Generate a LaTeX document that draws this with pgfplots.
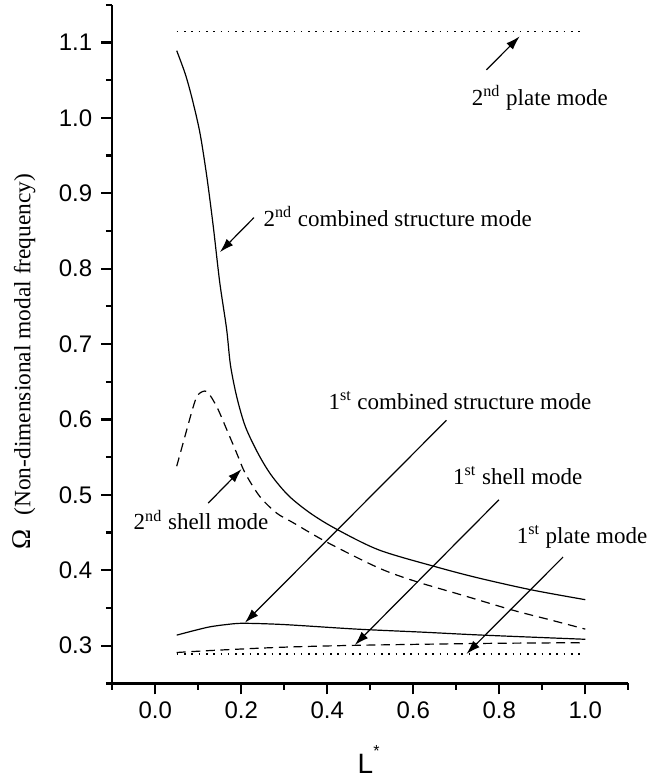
\documentclass[border=0pt]{standalone}
\usepackage{pgfplots}
\pgfplotsset{compat=1.18}
\usetikzlibrary{arrows.meta}
\usepackage{fontspec}
\setmainfont{Liberation Serif}
\setsansfont{Liberation Sans}
\begin{document}
\begin{tikzpicture}
\useasboundingbox (-56.1pt,-48.3pt) rectangle (267.9pt,341.7pt);
\begin{axis}[
  at={(0,0)}, anchor=south west,
  scale only axis, width=258.05pt, height=339.35pt,
  xmin=-0.1, xmax=1.1, ymin=0.25, ymax=1.15,
  axis lines*=left,
  axis line style={line width=1.1pt},
  tick align=outside,
  xtick={0,0.2,0.4,0.6,0.8,1.0},
  minor xtick={-0.1,0.1,0.3,0.5,0.7,0.9,1.1},
  ytick={0.3,0.4,0.5,0.6,0.7,0.8,0.9,1.0,1.1},
  minor ytick={0.25,0.35,0.45,0.55,0.65,0.75,0.85,0.95,1.05,1.15},
  /pgf/number format/assume math mode=true,
  /pgf/number format/.cd, fixed, fixed zerofill, precision=1,
  /pgfplots/.cd,
  tick label style={font=\sffamily\fontsize{12}{13}\selectfont},
  yticklabel style={xshift=-1pt},
  major tick length=5.5pt, minor tick length=3.2pt,
  every tick/.style={black, line width=1.1pt},
  clip=false,
  every axis plot/.append style={line width=0.6pt, black},
]
% 2nd plate mode (dotted)
\addplot[dash pattern=on 0.8pt off 2.85pt] coordinates {(0.05,1.1146) (1.0,1.1146)};
% 1st plate mode (dotted)
\addplot[dash pattern=on 0.8pt off 2.85pt] coordinates {(0.05,0.289) (1.0,0.289)};
% 2nd combined structure mode
\addplot[smooth] coordinates {
(0.05,1.089) (0.07,1.058) (0.086,1.025) (0.104,0.980) (0.12,0.922)
(0.135,0.856) (0.15,0.782) (0.166,0.720) (0.175,0.672) (0.19,0.629)
(0.21,0.590) (0.24,0.554) (0.27,0.526) (0.31,0.499) (0.36,0.476)
(0.42,0.455) (0.52,0.427) (0.65,0.405) (0.75,0.390) (0.875,0.374) (1.0,0.361)};
% 2nd shell mode
\addplot[smooth, dash pattern=on 4.5pt off 3pt] coordinates {
(0.05,0.538) (0.065,0.569) (0.0885,0.617) (0.10,0.633) (0.12,0.637)
(0.143,0.617) (0.166,0.587) (0.189,0.556) (0.209,0.529) (0.243,0.498)
(0.282,0.476) (0.321,0.463) (0.40,0.437) (0.52,0.403) (0.607,0.385)
(0.72,0.366) (0.832,0.347) (0.92,0.334) (1.0,0.322)};
% 1st combined structure mode
\addplot[smooth] coordinates {
(0.05,0.314) (0.09,0.320) (0.127,0.325) (0.165,0.328) (0.205,0.3297)
(0.30,0.328) (0.468,0.322) (0.62,0.318) (0.762,0.314) (1.0,0.3085)};
% 1st shell mode
\addplot[smooth, dash pattern=on 4.5pt off 2.8pt] coordinates {
(0.05,0.291) (0.143,0.294) (0.298,0.298) (0.468,0.3005) (0.762,0.303) (1.0,0.304)};

% annotations
\begin{scope}[line width=0.6pt, -{Latex[length=7pt,width=4.5pt]}]
\draw (axis cs:0.770,1.0636) -- (axis cs:0.8474,1.108);
\draw (axis cs:0.2295,0.8676) -- (axis cs:0.1505,0.8219);
\draw (axis cs:0.1233,0.4891) -- (axis cs:0.2009,0.5343);
\draw (axis cs:0.677,0.5988) -- (axis cs:0.2086,0.3305);
\draw (axis cs:0.7993,0.4935) -- (axis cs:0.4641,0.3009);
\draw (axis cs:0.948,0.4174) -- (axis cs:0.7236,0.2890);
\end{scope}
\begin{scope}[every node/.style={inner sep=0pt, anchor=base west, font=\fontsize{11.5}{13}\selectfont}]
\node at (axis cs:0.7352,1.0161) {2\textsuperscript{nd} plate mode};
\node at (axis cs:0.2511,0.8564) {2\textsuperscript{nd} combined structure mode};
\node at (axis cs:-0.0509,0.4537) {2\textsuperscript{nd} shell mode};
\node at (axis cs:0.402,0.613) {1\textsuperscript{st} combined structure mode};
\node at (axis cs:0.6918,0.514) {1\textsuperscript{st} shell mode};
\node at (axis cs:0.8397,0.436) {1\textsuperscript{st} plate mode};
\end{scope}
\end{axis}
\node[rotate=90, anchor=center, inner sep=0pt] at (-44.1pt,160.9pt)
  {{\fontsize{13.5}{15}\selectfont Ω}\hspace{7pt}{\fontsize{11.7}{13}\selectfont (Non-dimensional modal frequency)}};
\node[anchor=base, inner sep=0pt, font=\sffamily\fontsize{14}{16}\selectfont] at (128.2pt,-45pt)
  {L\raisebox{1.15ex}{\fontsize{8}{8}\selectfont *}};
\end{tikzpicture}
\end{document}
